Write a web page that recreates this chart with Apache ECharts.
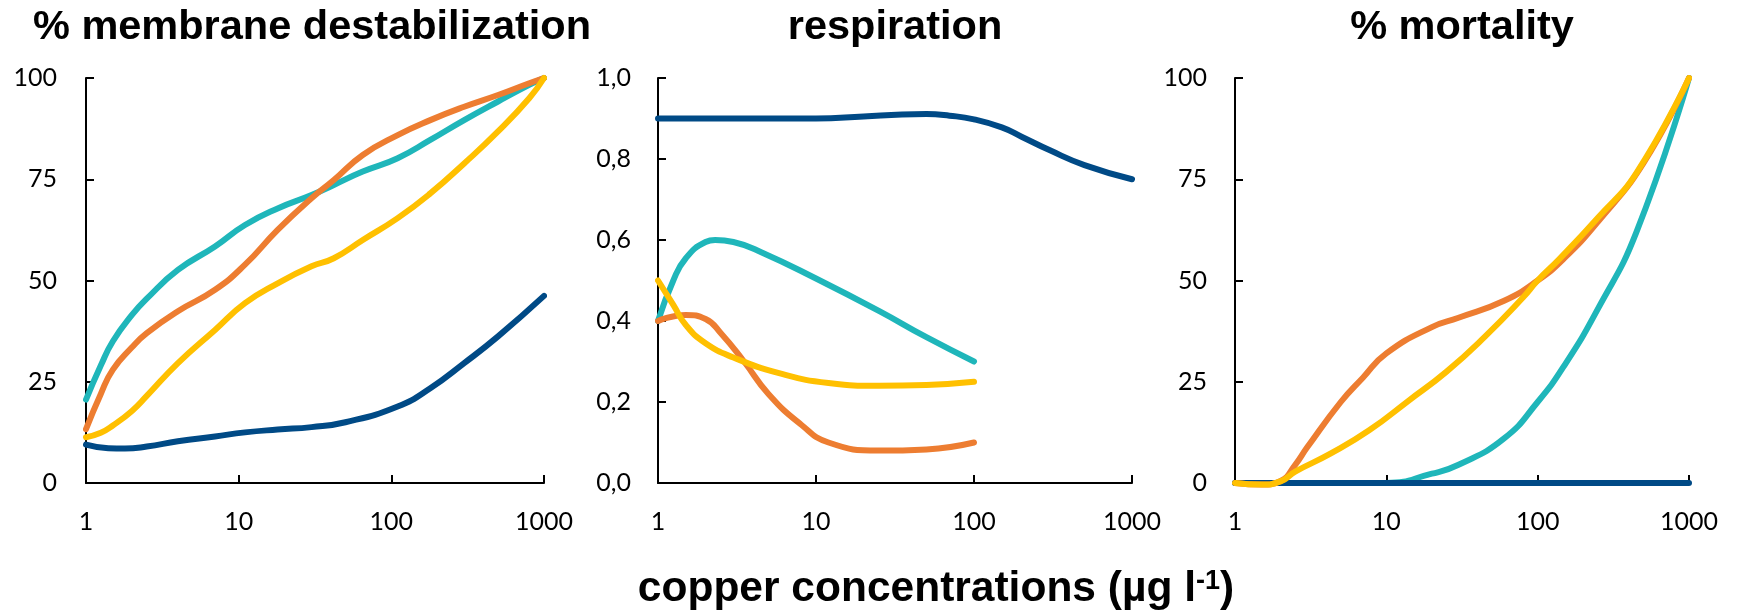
<!DOCTYPE html>
<html>
<head>
<meta charset="utf-8">
<script src="https://cdn.jsdelivr.net/npm/echarts@6/dist/echarts.min.js"></script>
<style>
  html, body { margin: 0; padding: 0; background: #fff; }
  #chart { width: 1741px; height: 613px; }
</style>
</head>
<body>
<div id="chart"></div>
<script>
// Copper concentration (µg l-1) and response, one pair of arrays per curve.

// % membrane destabilization
const memBlueX   = [1, 1.4, 1.8, 2.5, 4, 7, 11, 18, 30, 50, 110, 180, 300, 500, 1000];
const memBlueY   = [9.5, 8.6, 8.5, 9, 10.3, 11.5, 12.5, 13.2, 13.8, 15, 18.9, 23.4, 29.6, 36.2, 46.2];
const memTealX   = [1, 1.25, 1.5, 2, 2.5, 4, 7, 11, 18, 30, 42, 65, 110, 180, 300, 500, 800, 1000];
const memTealY   = [20.6, 29, 35, 41.5, 45.5, 52.6, 58.4, 63.7, 67.8, 71.1, 73.6, 76.9, 80.2, 84.7, 89.6, 94.2, 98.3, 100];
const memOrangeX = [1, 1.25, 1.5, 2, 2.5, 4, 7, 11, 18, 30, 42, 65, 110, 180, 300, 500, 800, 1000];
const memOrangeY = [13.3, 22, 28, 33.5, 37, 42.4, 47.7, 53.9, 62.5, 70.3, 74.8, 81, 85.9, 89.6, 92.9, 95.8, 98.7, 100];
const memYellowX = [1, 1.25, 1.5, 2, 2.5, 4, 7, 11, 18, 30, 42, 65, 110, 180, 300, 500, 800, 1000];
const memYellowY = [11.3, 12.4, 14.2, 17.8, 21.5, 29.6, 37.8, 44.4, 49.3, 53.5, 55.5, 60, 65.4, 71.5, 78.9, 86.8, 95, 100];

// respiration
const resBlueX   = [1, 5, 10, 20, 35, 50, 70, 100, 150, 200, 300, 500, 1000];
const resBlueY   = [0.9, 0.9, 0.9, 0.905, 0.91, 0.911, 0.907, 0.898, 0.878, 0.855, 0.822, 0.785, 0.75];
const resTealX   = [1, 1.25, 1.5, 2, 2.3, 3, 4.5, 10, 25, 50, 100];
const resTealY   = [0.40, 0.50, 0.555, 0.595, 0.60, 0.595, 0.57, 0.505, 0.425, 0.36, 0.30];
const resOrangeX = [1, 1.5, 2, 2.5, 3.5, 5, 8, 12, 25, 50, 100];
const resOrangeY = [0.40, 0.415, 0.405, 0.37, 0.30, 0.22, 0.145, 0.10, 0.08, 0.083, 0.10];
const resYellowX = [1, 1.25, 1.5, 2, 3, 6, 12, 25, 50, 100];
const resYellowY = [0.50, 0.44, 0.39, 0.345, 0.31, 0.27, 0.247, 0.24, 0.242, 0.25];

// % mortality
const morBlueX   = [1, 10, 100, 1000];
const morBlueY   = [0, 0, 0, 0];
const morTealX   = [1, 10, 20, 30, 60, 100, 150, 250, 450, 1000];
const morTealY   = [0, 0, 2.3, 4.5, 11, 20, 29, 43, 62, 100];
const morOrangeX = [1, 1.5, 2, 2.5, 3, 5, 7, 10, 20, 30, 60, 100, 150, 250, 500, 1000];
const morOrangeY = [0, -0.4, 0.5, 4.5, 8.8, 20, 26, 32, 38.5, 40.8, 45, 50, 55.5, 64.5, 79, 100];
const morYellowX = [1, 1.5, 2, 2.5, 4.3, 7.7, 14, 25, 45, 80, 100, 140, 250, 450, 1000];
const morYellowY = [0, -0.4, 0.4, 2.8, 7.3, 13, 20.3, 27.5, 36.2, 45.8, 50, 55.4, 65.5, 76.6, 100];

const panelTitles = ['% membrane destabilization', 'respiration', '% mortality'];
const xTickLabels = ['1', '10', '100', '1000'];

const COLORS = { blue: '#004A86', teal: '#1FB6BA', orange: '#ED7D31', yellow: '#FFC000' };

const grids = [
  { left: 86,   top: 78, width: 458, height: 405 },
  { left: 658,  top: 78, width: 474, height: 405 },
  { left: 1235, top: 78, width: 454, height: 405 }
];

const labelFont = { fontFamily: 'Lato', fontSize: 25, color: '#000' };
const axisLine = { show: true, onZero: false, lineStyle: { color: '#000', width: 2 } };
const axisTick = { show: true, inside: true, length: 8, lineStyle: { color: '#000', width: 2 } };

function pairs(xs, ys) { return xs.map((x, i) => [x, ys[i]]); }

function line(panel, xs, ys, color, z) {
  return {
    type: 'line',
    xAxisIndex: panel, yAxisIndex: panel,
    data: pairs(xs, ys),
    smooth: 0.5,
    symbol: 'none',
    clip: false,
    z: z,
    lineStyle: { color: color, width: 6, cap: 'round', join: 'round' },
    itemStyle: { color: color }
  };
}

const xAxes = grids.map((g, i) => ({
  type: 'log', logBase: 10, min: 1, max: 1000, gridIndex: i,
  axisLine: axisLine, axisTick: axisTick, splitLine: { show: false },
  axisLabel: Object.assign({ margin: 26, formatter: v => xTickLabels[Math.round(Math.log10(v))] }, labelFont)
}));

const yAxes = [
  { min: 0, max: 100, interval: 25, margin: 29 },
  { min: 0, max: 1, interval: 0.2, margin: 27, fmt: v => v.toFixed(1).replace('.', ',') },
  { min: 0, max: 100, interval: 25, margin: 28 }
].map((a, i) => ({
  type: 'value', gridIndex: i, min: a.min, max: a.max, interval: a.interval,
  axisLine: axisLine, axisTick: axisTick, splitLine: { show: false },
  axisLabel: Object.assign({ margin: a.margin, formatter: a.fmt || (v => String(v)) }, labelFont)
}));

const titleCenters = [312, 895, 1462];
const titles = panelTitles.map((t, i) => ({
  text: t, left: titleCenters[i], top: 7, textAlign: 'center', padding: 0,
  textStyle: { fontFamily: 'Liberation Sans', fontWeight: 'bold', fontSize: 41.5, color: '#000' }
}));
titles.push({
  text: '{a|copper concentrations (µg l}{s|-1}{a|)}',
  left: 936, top: 568, textAlign: 'center', padding: 0,
  textStyle: {
    rich: {
      a: { fontFamily: 'Liberation Sans', fontWeight: 'bold', fontSize: 42.5, color: '#000' },
      s: { fontFamily: 'Liberation Sans', fontWeight: 'bold', fontSize: 27, color: '#000', verticalAlign: 'top' }
    }
  }
});

const chart = echarts.init(document.getElementById('chart'), null, { renderer: 'canvas' });
chart.setOption({
  animation: false,
  backgroundColor: '#fff',
  title: titles,
  grid: grids,
  xAxis: xAxes,
  yAxis: yAxes,
  series: [
    line(0, memTealX, memTealY, COLORS.teal, 2),
    line(0, memBlueX, memBlueY, COLORS.blue, 3),
    line(0, memOrangeX, memOrangeY, COLORS.orange, 4),
    line(0, memYellowX, memYellowY, COLORS.yellow, 5),
    line(1, resTealX, resTealY, COLORS.teal, 2),
    line(1, resBlueX, resBlueY, COLORS.blue, 3),
    line(1, resOrangeX, resOrangeY, COLORS.orange, 4),
    line(1, resYellowX, resYellowY, COLORS.yellow, 5),
    line(2, morTealX, morTealY, COLORS.teal, 2),
    line(2, morBlueX, morBlueY, COLORS.blue, 3),
    line(2, morOrangeX, morOrangeY, COLORS.orange, 4),
    line(2, morYellowX, morYellowY, COLORS.yellow, 5)
  ]
});
</script>
</body>
</html>
